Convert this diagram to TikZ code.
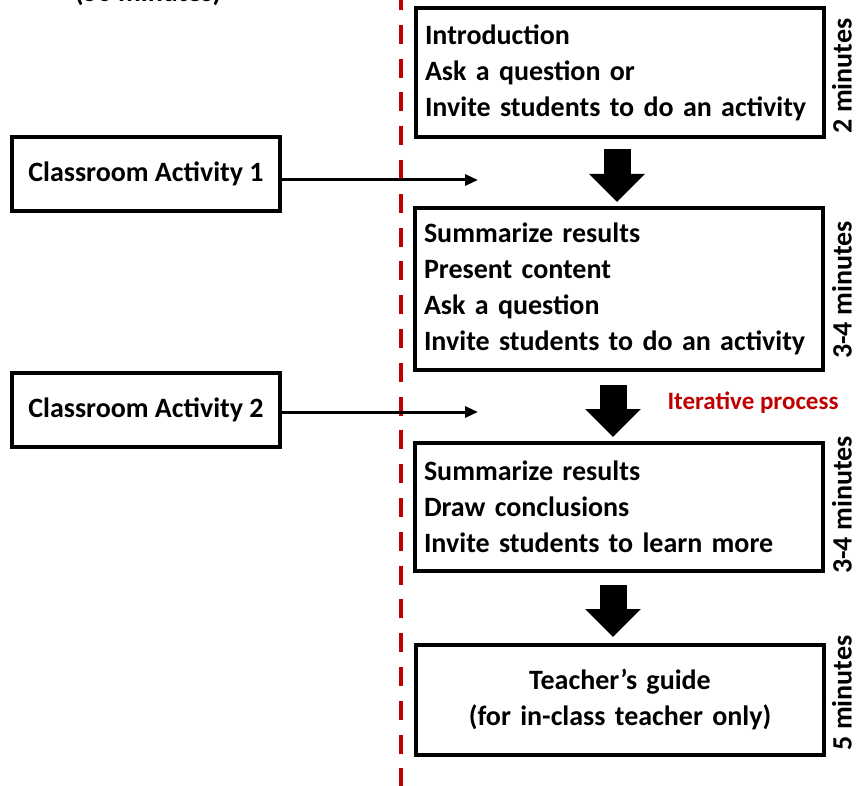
\documentclass[tikz,border=0pt]{standalone}
\usepackage{fontspec}
\setmainfont{Carlito}
\usetikzlibrary{arrows.meta}
\definecolor{darkred}{RGB}{192,0,0}

\begin{document}
\begin{tikzpicture}[x=1pt,y=-1pt,
    step_box/.style={draw,line width=4pt,minimum width=408pt,text width=390pt,inner sep=0pt,align=left,font=\bfseries\fontsize{28}{36}\selectfont},
    act_box/.style={draw,line width=4pt,minimum width=268pt,minimum height=74pt,font=\bfseries\fontsize{28}{34}\selectfont},
    time_label/.style={rotate=90,inner sep=0pt,font=\bfseries\fontsize{28}{34}\selectfont},
    big_arrow/.style={line width=27pt,-{Triangle[width=54pt,length=28pt]}},
    thin_arrow/.style={line width=3pt,-{Triangle[width=11pt,length=13pt]}}]
    \useasboundingbox (0,0) rectangle (859,786);
    \begin{scope}
        \clip (0,0) rectangle (859,786);
        \node[anchor=base,font=\bfseries\fontsize{28}{34}\selectfont] (total) at (148,2) {(50 minutes)};
        \draw[darkred,line width=4pt,dash pattern=on 19pt off 14.8pt] (401,-9) -- (401,800);
    \end{scope}
    % steps
    \node[step_box,minimum height=129pt] (intro) at (620,72.5) {Introduction\\Ask a question or\\Invite students to do an activity};
    \node[step_box,minimum height=162pt] (present) at (619,289) {Summarize results\\Present content\\Ask a question\\Invite students to do an activity};
    \node[step_box,minimum height=128pt] (conclude) at (619,507) {Summarize results\\Draw conclusions\\Invite students to learn more};
    \node[step_box,minimum height=110pt,align=center] (guide) at (620,700) {Teacher's guide\\(for in-class teacher only)};
    \node[time_label] (t1) at (842,76) {2 minutes};
    \node[time_label] (t2) at (842,290) {3-4 minutes};
    \node[time_label] (t3) at (842,505) {3-4 minutes};
    \node[time_label] (t4) at (842,693) {5 minutes};
    \draw[big_arrow] (617,149) -- (617,202);
    \draw[big_arrow] (613,385) -- (613,437);
    \draw[big_arrow] (613,585) -- (613,637);
    \node[text=darkred,font=\bfseries\fontsize{25}{30}\selectfont] (iter) at (753,403) {Iterative process};
    % activities
    \node[act_box] (act1) at (146,174) {Classroom Activity 1};
    \node[act_box] (act2) at (146,410) {Classroom Activity 2};
    \coordinate (in1) at (478,180);
    \coordinate (in2) at (478,412);
    \draw[thin_arrow] (act1.east |- in1) -- (in1);
    \draw[thin_arrow] (act2.east |- in2) -- (in2);
\end{tikzpicture}
\end{document}
